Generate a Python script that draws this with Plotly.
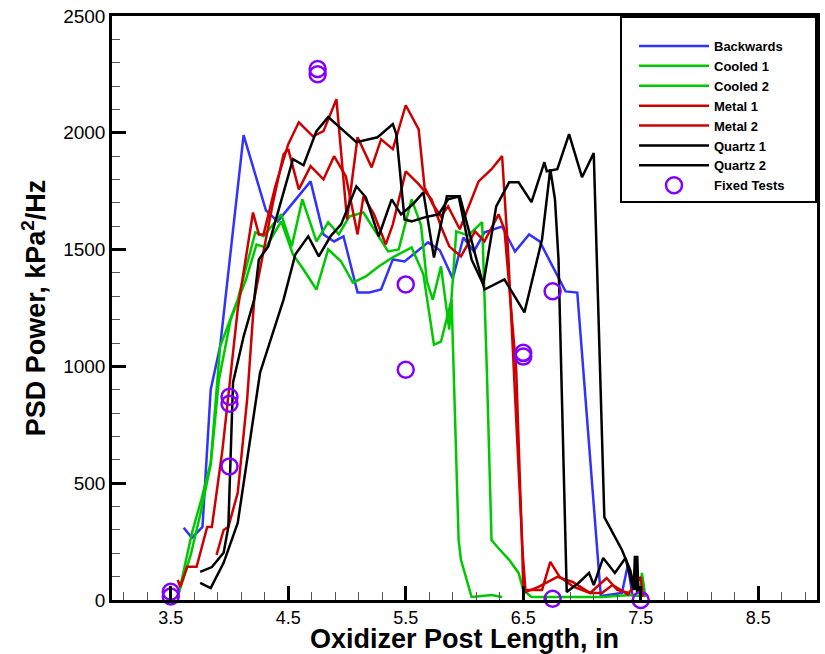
import plotly.graph_objects as go

# ---------------- data ----------------
backwards_x = [3.61, 3.68, 3.77, 3.84, 3.92, 4.12, 4.31, 4.41, 4.69, 4.80, 4.89, 4.97, 5.09, 5.19, 5.29,
               5.39, 5.49, 5.59, 5.69, 5.79, 5.90, 5.99, 6.08, 6.17, 6.32, 6.43, 6.55, 6.64, 6.76, 6.86,
               6.96, 7.16, 7.34, 7.39, 7.43]
backwards_y = [309, 266, 313, 900, 1085, 1990, 1668, 1621, 1792, 1565, 1535, 1557, 1316, 1316, 1329,
               1458, 1449, 1488, 1531, 1497, 1376, 1552, 1492, 1574, 1599, 1492, 1565, 1535, 1419, 1321,
               1316, 17, 30, 150, 17]

cooled1_x = [3.55, 3.59, 3.67, 3.75, 3.84, 3.91, 4.01, 4.14, 4.23, 4.31, 4.44, 4.54, 4.63, 4.74, 4.84,
             4.95, 5.05, 5.16, 5.27, 5.39, 5.55, 5.65, 5.74, 5.80, 5.89, 5.95, 5.97, 6.06, 6.15, 6.23, 6.32]
cooled1_y = [9, 64, 193, 364, 579, 943, 1201, 1372, 1522, 1509, 1621, 1479, 1415, 1329, 1501,
             1449, 1359, 1385, 1428, 1467, 1509, 1394, 1093, 1106, 1286, 257, 172, 13, 17, 21, 13]

cooled2_x = [3.56, 3.61, 3.68, 3.76, 3.84, 3.92, 4.07, 4.22, 4.29, 4.44, 4.53, 4.62, 4.74, 4.84, 4.93,
             5.02, 5.14, 5.23, 5.35, 5.44, 5.55, 5.63, 5.68, 5.73, 5.80, 5.87, 5.93, 6.03, 6.15, 6.19,
             6.23, 6.28, 6.38, 6.46, 6.50, 6.57, 6.83, 7.17, 7.41, 7.49, 7.51, 7.54]
cooled2_y = [9, 120, 287, 429, 587, 1085, 1286, 1574, 1557, 1651, 1514, 1715, 1535, 1617, 1565,
             1642, 1659, 1587, 1492, 1501, 1715, 1604, 1364, 1286, 1428, 1158, 1578, 1561, 1617, 986,
             257, 227, 172, 116, 43, 13, 13, 13, 21, 17, 116, 13]

metal1_x = [3.56, 3.58, 3.64, 3.72, 3.81, 3.85, 3.94, 4.07, 4.20, 4.25, 4.29, 4.39, 4.50, 4.59, 4.71,
            4.80, 4.91, 5.00, 5.09, 5.21, 5.29, 5.39, 5.50, 5.61, 5.66, 5.73, 5.80, 5.86, 5.96, 6.12,
            6.23, 6.32, 6.37, 6.49, 6.50, 6.53, 6.66, 6.73, 6.81, 6.93, 7.07, 7.21, 7.30, 7.40, 7.50, 7.52]
metal1_y = [86, 56, 142, 142, 313, 313, 643, 1244, 1659, 1565, 1565, 1771, 1951, 2045, 1985,
            2007, 2144, 1629, 1981, 1852, 1972, 1930, 2118, 2015, 1767, 1694, 1642, 1685, 1587, 1792,
            1844, 1900, 1501, 257, 43, 43, 43, 163, 99, 56, 30, 94, 43, 30, 99, 13]

metal2_x = [3.89, 3.95, 3.99, 4.07, 4.15, 4.21, 4.37, 4.46, 4.50, 4.59, 4.69, 4.80, 4.89, 4.99, 5.09,
            5.14, 5.23, 5.33, 5.39, 5.50, 5.61, 5.72, 5.80, 5.87, 5.97, 6.09, 6.17, 6.29, 6.34, 6.44,
            6.49, 6.52, 6.63, 6.79, 6.92, 7.07, 7.17, 7.26, 7.40]
metal2_y = [193, 300, 313, 459, 858, 1286, 1702, 1908, 1930, 1758, 1857, 1801, 1900, 1814, 1565,
            1728, 1651, 1522, 1608, 1835, 1780, 1715, 1599, 1514, 1471, 1578, 1535, 1651, 1587, 986,
            236, 34, 56, 99, 77, 30, 30, 64, 21]

quartz1_x = [3.75, 3.85, 3.95, 3.99, 4.03, 4.12, 4.21, 4.25, 4.33, 4.54, 4.63, 4.74, 4.84, 5.08, 5.26,
             5.39, 5.42, 5.49, 5.55, 5.66, 5.78, 5.86, 5.96, 6.17, 6.34, 6.51, 6.66, 6.73, 6.77, 6.80,
             6.87, 6.97, 7.06, 7.10, 7.18, 7.28, 7.37, 7.44, 7.45, 7.47]
quartz1_y = [120, 141, 202, 313, 931, 1128, 1286, 1458, 1514, 1887, 1861, 2007, 2067, 1960, 1981,
             2037, 1994, 1629, 1621, 1638, 1651, 1715, 1728, 1329, 1372, 1231, 1544, 1844, 1715, 1458,
             34, 73, 116, 64, 180, 116, 180, 43, 189, 30]

quartz2_x = [3.75, 3.84, 3.95, 4.07, 4.26, 4.46, 4.56, 4.67, 4.76, 4.86, 4.95, 5.08, 5.16, 5.27, 5.38,
             5.46, 5.56, 5.65, 5.74, 5.85, 5.95, 6.06, 6.16, 6.27, 6.38, 6.46, 6.57, 6.68, 6.70, 6.79,
             6.89, 7.00, 7.10, 7.19, 7.34, 7.41, 7.45, 7.47, 7.48]
quartz2_y = [73, 51, 159, 330, 973, 1286, 1479, 1557, 1471, 1557, 1608, 1771, 1724, 1557, 1715,
             1651, 1694, 1745, 1466, 1728, 1728, 1458, 1351, 1685, 1788, 1788, 1703, 1874, 1835, 1844,
             1994, 1810, 1913, 355, 214, 129, 43, 189, 30]

fixed_x = [3.5, 3.5, 4.0, 4.0, 4.0, 4.75, 4.75, 5.5, 5.5, 6.5, 6.5, 6.75, 6.75, 7.5]
fixed_y = [35, 15, 870, 840, 572, 2273, 2251, 1351, 986, 1058, 1042, 1322, 5, 0]

x_ticks = [3.5, 4.5, 5.5, 6.5, 7.5, 8.5]
y_ticks = [0, 500, 1000, 1500, 2000, 2500]

# ---------------- styling ----------------
BLUE = "rgb(50,50,255)"
GREEN = "rgb(0,200,0)"
RED = "rgb(205,0,0)"
BLACK = "black"
PURPLE = "rgb(130,0,255)"
FONT = "Liberation Sans, Arial, sans-serif"

series = [
    ("Backwards", backwards_x, backwards_y, BLUE),
    ("Cooled 1", cooled1_x, cooled1_y, GREEN),
    ("Cooled 2", cooled2_x, cooled2_y, GREEN),
    ("Metal 1", metal1_x, metal1_y, RED),
    ("Metal 2", metal2_x, metal2_y, RED),
    ("Quartz 1", quartz1_x, quartz1_y, BLACK),
    ("Quartz 2", quartz2_x, quartz2_y, BLACK),
]

fig = go.Figure()
for name, xs, ys, col in series:
    fig.add_trace(go.Scatter(x=xs, y=ys, mode="lines", name=name,
                             line=dict(color=col, width=2.5)))

fig.add_trace(go.Scatter(x=fixed_x, y=fixed_y, mode="markers", name="Fixed Tests",
                         cliponaxis=False,
                         marker=dict(symbol="circle-open", size=16, color=PURPLE,
                                     line=dict(width=2.5, color=PURPLE))))

axis_common = dict(
    showline=True, linewidth=2.5, linecolor="black", mirror=True,
    showgrid=False, zeroline=False,
    ticks="inside", ticklen=14, tickwidth=2.5, tickcolor="black",
)

fig.update_xaxes(range=[3, 9], tickmode="array", tickvals=x_ticks,
                 ticktext=[str(v) for v in x_ticks],
                 tickfont=dict(family=FONT, size=18, color="black"),
                 minor=dict(ticks="inside", ticklen=8, tickwidth=1, tickcolor="#555",
                            dtick=0.2, tick0=3.5),
                 title=dict(text="Oxidizer Post Length, in", standoff=5,
                            font=dict(family=FONT, size=27, color="black", weight="bold")),
                 **axis_common)
fig.update_yaxes(range=[0, 2500], tickmode="array", tickvals=y_ticks,
                 ticktext=[str(v) for v in y_ticks],
                 tickfont=dict(family=FONT, size=19, color="black"),
                 minor=dict(ticks="inside", ticklen=8, tickwidth=1, tickcolor="#555",
                            dtick=100, tick0=0),
                 title=dict(text="PSD Power, kPa<sup>2</sup>/Hz", standoff=10,
                            font=dict(family=FONT, size=27, color="black", weight="bold")),
                 **axis_common)

fig.update_layout(
    width=825, height=654,
    margin=dict(l=112, r=8, t=16, b=54, autoexpand=False),
    paper_bgcolor="white", plot_bgcolor="white",
    font=dict(family=FONT, color="black"),
    showlegend=True,
    legend=dict(x=1, xanchor="right", y=1, yanchor="top",
                bgcolor="white", bordercolor="black", borderwidth=2,
                font=dict(family=FONT, size=13, color="black", weight="bold"),
                itemwidth=70, tracegroupgap=0, indentation=12,
                title=dict(text="\u00a0" * 68, font=dict(size=10))),
)

fig.write_html("out.html")
